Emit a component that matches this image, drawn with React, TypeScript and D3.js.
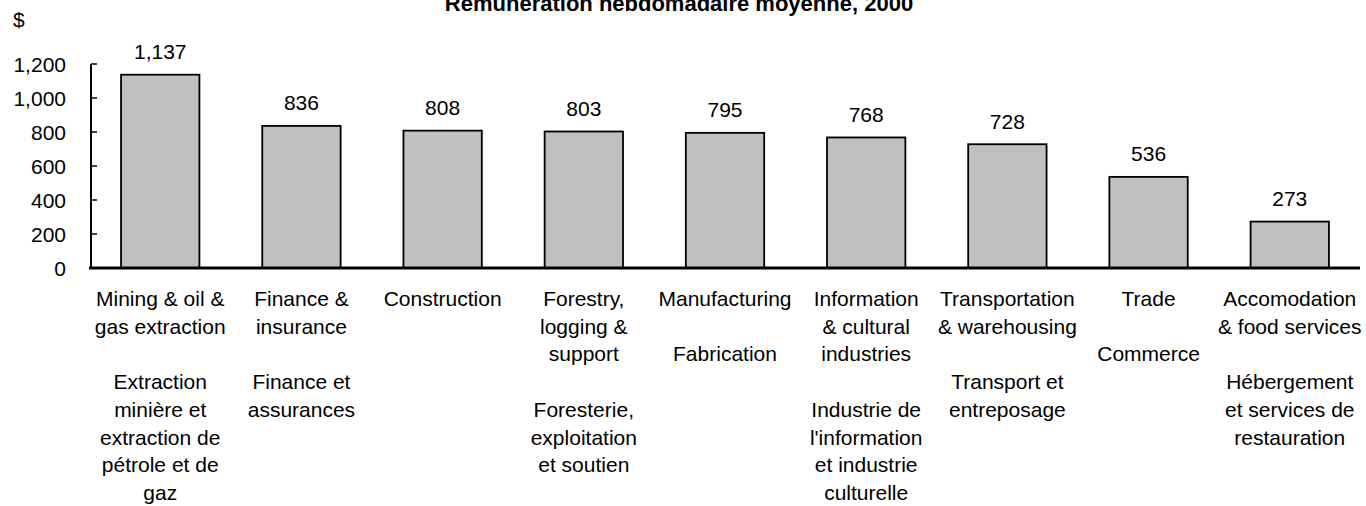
import React from 'react'
import * as d3 from 'd3'

// weekly earnings by industry, 2000
const industries = [
  'Mining', 'Finance', 'Construction', 'Forestry', 'Manufacturing',
  'Information', 'Transportation', 'Trade', 'Accomodation',
];

const earnings = [1137, 836, 808, 803, 795, 768, 728, 536, 273];

// bilingual label lines, blank string = empty line
const labelLines = [
  ['Mining & oil &', 'gas extraction', '', 'Extraction', 'minière et', 'extraction de', 'pétrole et de', 'gaz'],
  ['Finance &', 'insurance', '', 'Finance et', 'assurances'],
  ['Construction'],
  ['Forestry,', 'logging &', 'support', '', 'Foresterie,', 'exploitation', 'et soutien'],
  ['Manufacturing', '', 'Fabrication'],
  ['Information', '& cultural', 'industries', '', 'Industrie de', "l'information", 'et industrie', 'culturelle'],
  ['Transportation', '& warehousing', '', 'Transport et', 'entreposage'],
  ['Trade', '', 'Commerce'],
  ['Accomodation', '& food services', '', 'Hébergement', 'et services de', 'restauration'],
];

const yTicks = [0, 200, 400, 600, 800, 1000, 1200];

const title = 'Rémunération hebdomadaire moyenne, 2000';

const svgWidth = 1366;
const svgHeight = 506;
const font = '"Liberation Sans", Arial, sans-serif';
const fontSize = 21;
const lineGap = 27.7;

const xScale = d3.scaleBand<string>()
  .domain(industries)
  .range([90, 1360])
  .paddingInner(0.445)
  .paddingOuter(0.22);

const yScale = d3.scaleLinear()
  .domain([0, 1200])
  .range([268, 64]);

const fmt = d3.format(',');

const App = () => {
  const x0 = 91;
  const base = yScale(0);
  return (
    <svg
      width={svgWidth}
      height={svgHeight}
      style={{ position: 'absolute', left: 0, top: 0, display: 'block', background: '#fff' }}
      fontFamily={font}
      fontSize={fontSize}
    >
      <text x={679} y={11} textAnchor='middle' fontWeight='bold' fontSize={22}>{title}</text>
      <text x={13} y={27}>$</text>

      {yTicks.map((t) => (
        <g key={t}>
          <line x1={x0} x2={x0 + 6} y1={yScale(t)} y2={yScale(t)} stroke='#000' strokeWidth={1.5} />
          <text x={66} y={yScale(t) + 7.5} textAnchor='end'>{fmt(t)}</text>
        </g>
      ))}

      {industries.map((d, i) => {
        const bx = xScale(d) as number;
        const bw = xScale.bandwidth();
        const top = yScale(earnings[i]);
        const cx = bx + bw / 2;
        return (
          <g key={d}>
            <rect x={bx} y={top} width={bw} height={base - top} fill='#c0c0c0' stroke='#000' strokeWidth={1.8} />
            <text x={cx} y={top - 15.5} textAnchor='middle'>{fmt(earnings[i])}</text>
            <text x={cx} y={306} textAnchor='middle'>
              {labelLines[i].map((l, j) => (
                <tspan key={j} x={cx} y={306 + j * lineGap}>{l}</tspan>
              ))}
            </text>
          </g>
        );
      })}

      <line x1={x0} x2={x0} y1={yScale(1200)} y2={base} stroke='#000' strokeWidth={2} />
      <line x1={x0 - 2} x2={1360} y1={base} y2={base} stroke='#000' strokeWidth={3} />
    </svg>
  );
};

export default App
